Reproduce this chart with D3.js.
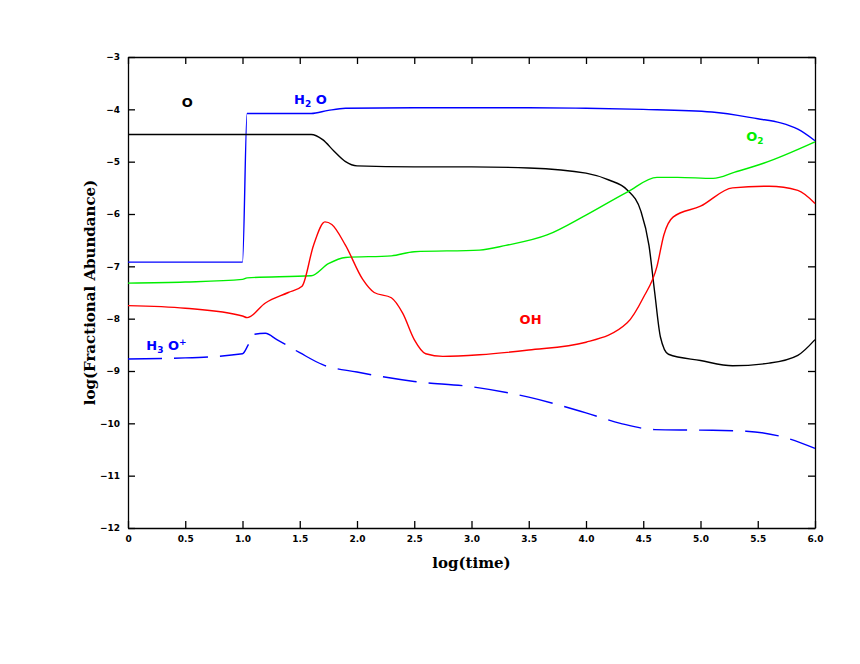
<!DOCTYPE html>
<html><head><meta charset="utf-8">
<script src="https://cdn.jsdelivr.net/npm/d3@7"></script>
<style>body{margin:0;background:#fff}</style>
</head><body><div id="chart"></div>
<script>
// series: [log(time), log(abundance)]
const h2o = [[0,-6.92],[1.0,-6.92],[1.04,-4.08],[1.6,-4.08],[1.75,-4.02],[1.9,-3.98],[2.5,-3.97],[3.5,-3.97],[4.0,-3.98],[4.5,-4.0],[5.1,-4.05],[5.5,-4.18],[5.7,-4.26],[5.85,-4.38],[6.0,-4.6]];
const oAtom = [[0,-4.48],[1.6,-4.48],[1.7,-4.58],[1.8,-4.8],[1.9,-5.0],[2.0,-5.08],[2.5,-5.1],[3.0,-5.1],[3.5,-5.12],[4.0,-5.22],[4.2,-5.35],[4.36,-5.54],[4.48,-5.95],[4.55,-6.6],[4.6,-7.5],[4.65,-8.35],[4.72,-8.68],[5.0,-8.8],[5.28,-8.9],[5.6,-8.85],[5.85,-8.7],[6.0,-8.4]];
const o2 = [[0,-7.32],[0.5,-7.3],[1.0,-7.25],[1.04,-7.22],[1.6,-7.18],[1.75,-6.95],[1.9,-6.83],[2.3,-6.8],[2.5,-6.72],[3.07,-6.69],[3.3,-6.6],[3.66,-6.4],[4.0,-6.02],[4.36,-5.58],[4.62,-5.3],[4.8,-5.3],[5.11,-5.32],[5.3,-5.2],[5.55,-5.03],[6.0,-4.62]];
const oh = [[0,-7.75],[0.5,-7.8],[1.0,-7.95],[1.04,-7.98],[1.2,-7.7],[1.4,-7.5],[1.52,-7.38],[1.62,-6.6],[1.72,-6.15],[1.78,-6.2],[1.9,-6.6],[2.05,-7.25],[2.15,-7.5],[2.3,-7.6],[2.4,-7.9],[2.5,-8.4],[2.6,-8.67],[2.75,-8.72],[3.07,-8.69],[3.5,-8.6],[4.0,-8.45],[4.36,-8.08],[4.5,-7.6],[4.62,-7.0],[4.68,-6.4],[4.76,-6.06],[5.0,-5.85],[5.28,-5.5],[5.6,-5.47],[5.85,-5.55],[6.0,-5.8]];
const h3o = [[0,-8.77],[0.5,-8.75],[1.0,-8.67],[1.05,-8.5],[1.1,-8.3],[1.2,-8.28],[1.3,-8.4],[1.5,-8.65],[1.7,-8.88],[2.0,-9.02],[2.5,-9.2],[3.0,-9.3],[3.5,-9.5],[4.0,-9.8],[4.3,-10.0],[4.6,-10.12],[5.0,-10.13],[5.4,-10.15],[5.7,-10.25],[6.0,-10.48]];
const xTicks = d3.range(0, 6.01, 0.5);
const yTicks = d3.range(-12, -2.9, 1);

const width = 860, height = 664;
const margin = { top: 57, right: 45, bottom: 136, left: 128 };
const w = width - margin.left - margin.right, h = height - margin.top - margin.bottom;

const svg = d3.select("#chart").append("svg").attr("width", width).attr("height", height);
const g = svg.append("g").attr("transform", `translate(${margin.left},${margin.top})`);

const x = d3.scaleLinear().domain([0, 6]).range([0, w]);
const y = d3.scaleLinear().domain([-12, -3]).range([h, 0]);

const fmtX = d => d === 0 ? "0" : d.toFixed(1);
const fmtY = d => "\u2212" + Math.abs(d);
const tickFont = (sel) => sel.selectAll("text").style("font-family", "DejaVu Sans").style("font-weight", "bold").style("font-size", "9px");

// axes with inward ticks
g.append("g").attr("transform", `translate(0,${h})`)
  .call(d3.axisBottom(x).tickValues(xTicks).tickFormat(fmtX).tickSize(-7).tickPadding(8).tickSizeOuter(0))
  .call(tickFont);
g.append("g")
  .call(d3.axisTop(x).tickValues(xTicks).tickFormat("").tickSize(-7).tickSizeOuter(0));
g.append("g")
  .call(d3.axisLeft(y).tickValues(yTicks).tickFormat(fmtY).tickSize(-7).tickPadding(8).tickSizeOuter(0))
  .call(tickFont);
g.append("g").attr("transform", `translate(${w},0)`)
  .call(d3.axisRight(y).tickValues(yTicks).tickFormat("").tickSize(-7).tickSizeOuter(0));
g.selectAll(".domain, .tick line").attr("stroke", "#000").attr("stroke-width", 1.3);

const line = d3.line().x(d => x(d[0])).y(d => y(d[1])).curve(d3.curveMonotoneX);
const series = [
  { data: h2o, color: "#0000ff" },
  { data: oAtom, color: "#000000" },
  { data: o2, color: "#00ee00" },
  { data: oh, color: "#ff0000" },
  { data: h3o, color: "#0000ff", dash: "34,12" }
];
g.selectAll(".series").data(series).join("path")
  .attr("fill", "none")
  .attr("stroke", d => d.color)
  .attr("stroke-width", 1.4)
  .attr("stroke-dasharray", d => d.dash || null)
  .attr("d", d => line(d.data));

// labels
const labels = [
  { t: "O", x: 0.47, y: -3.95, c: "#000" },
  { t: "H", sub: "2", rest: " O", x: 1.45, y: -3.9, c: "#0000ff" },
  { t: "O", sub: "2", x: 5.4, y: -4.6, c: "#00ee00" },
  { t: "OH", x: 3.42, y: -8.1, c: "#ff0000" },
  { t: "H", sub: "3", rest: " O", sup: "+", x: 0.16, y: -8.6, c: "#0000ff" }
];
labels.forEach(l => {
  const tx = g.append("text").attr("x", x(l.x)).attr("y", y(l.y))
    .attr("fill", l.c).style("font-family", "DejaVu Sans").style("font-weight", "bold").style("font-size", "13px");
  tx.append("tspan").text(l.t);
  if (l.sub) tx.append("tspan").attr("dy", 3).style("font-size", "9px").text(l.sub);
  if (l.rest) tx.append("tspan").attr("dy", -3).text(l.rest);
  if (l.sup) tx.append("tspan").attr("dy", -5).style("font-size", "9px").text(l.sup);
});

// axis titles
svg.append("text").attr("x", margin.left + w / 2).attr("y", 568).attr("text-anchor", "middle")
  .style("font-family", "DejaVu Serif").style("font-weight", "bold").style("font-size", "15px").text("log(time)");
svg.append("text").attr("transform", "rotate(-90)").attr("x", -(margin.top + h / 2)).attr("y", 95)
  .attr("text-anchor", "middle")
  .style("font-family", "DejaVu Serif").style("font-weight", "bold").style("font-size", "15px").text("log(Fractional Abundance)");
</script></body></html>
